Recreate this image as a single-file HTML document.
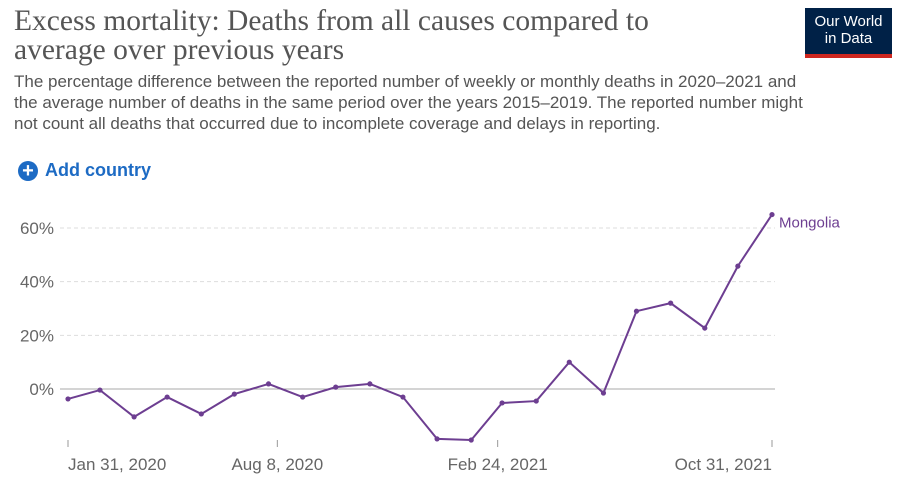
<!DOCTYPE html>
<html><head><meta charset="utf-8"><style>
body{margin:0;width:898px;height:480px;background:#fff;font-family:"Liberation Sans",sans-serif;position:relative;overflow:hidden}
.title{position:absolute;left:14px;top:7px;font-family:"Liberation Serif",serif;font-size:29.5px;line-height:29px;color:#555;width:700px}
.sub{position:absolute;left:14px;top:71px;font-size:17px;line-height:21px;color:#555;width:795px}
.logo{position:absolute;left:805px;top:8px;width:87px;height:50px;background:#002147;color:#fff;font-size:15px;line-height:17px;text-align:center;padding-top:5px;box-sizing:border-box;border-bottom:4px solid #ce261e}
.add{position:absolute;left:18px;top:160px;font-size:18px;font-weight:bold;color:#1d6bc4;display:flex;align-items:center}
.add span.c{display:inline-block;width:20px;height:20px;border-radius:50%;background:#1d6bc4;color:#fff;text-align:center;line-height:20px;font-size:20px;margin-right:7px}
</style></head><body>
<div class="title">Excess mortality: Deaths from all causes compared to average over previous years</div>
<div class="sub">The percentage difference between the reported number of weekly or monthly deaths in 2020–2021 and the average number of deaths in the same period over the years 2015–2019. The reported number might not count all deaths that occurred due to incomplete coverage and delays in reporting.</div>
<div class="logo">Our World<br>in Data</div>
<div class="add"><span class="c">+</span>Add country</div>
<svg id="chart" width="898" height="480" style="position:absolute;left:0;top:0"></svg>
<script>
const dates=["2020-01-31","2020-02-29","2020-03-31","2020-04-30","2020-05-31","2020-06-30","2020-07-31","2020-08-31","2020-09-30","2020-10-31","2020-11-30","2020-12-31","2021-01-31","2021-02-28","2021-03-31","2021-04-30","2021-05-31","2021-06-30","2021-07-31","2021-08-31","2021-09-30","2021-10-31"];
const values=[-3.7,-0.4,-10.4,-3,-9.3,-1.9,1.9,-3,0.7,1.9,-3,-18.6,-19,-5.2,-4.5,10,-1.5,29,32,22.7,45.8,65];
const yTicks=[0,20,40,60];
const xTicks=["2020-01-31","2020-08-08","2021-02-24","2021-10-31"];
const xTickLabels=["Jan 31, 2020","Aug 8, 2020","Feb 24, 2021","Oct 31, 2021"];
const svg=document.getElementById('chart');const NS="http://www.w3.org/2000/svg";
const t0=Date.parse("2020-01-31"),t1=Date.parse("2021-10-31");
const x=d=>68+(Date.parse(d)-t0)/(t1-t0)*704;
const y=v=>389-v*(161/60);
function el(tag,attrs,txt){const e=document.createElementNS(NS,tag);for(const k in attrs)e.setAttribute(k,attrs[k]);if(txt!=null)e.textContent=txt;svg.appendChild(e);return e;}
yTicks.forEach(v=>{
 const l=el('line',{x1:60,x2:775,y1:y(v),y2:y(v),stroke:v===0?'#aaa':'#ddd','stroke-dasharray':v===0?'':'4,3'});
 
 
 const t=el('text',{x:54,y:y(v)+6,'text-anchor':'end','font-size':17,fill:'#666','font-family':'Liberation Sans'},v+'%');
 
 
});
xTicks.forEach((d,i)=>{
 const l=el('line',{x1:x(d),x2:x(d),y1:440,y2:447,stroke:'#999'});
 
 
 const anchor=i===0?'start':(i===xTicks.length-1?'end':'middle');
 const t=el('text',{x:x(d),y:470,'text-anchor':anchor,'font-size':17,fill:'#666','font-family':'Liberation Sans'},xTickLabels[i]);
 
 
});
const p=el('polyline',{points:dates.map((d,i)=>x(d)+','+y(values[i])).join(' '),fill:'none',stroke:'#6d3e91','stroke-width':2});


dates.forEach((d,i)=>{
 const c=el('circle',{cx:x(d),cy:y(values[i]),r:2.6,fill:'#6d3e91'});
 
 
});
const lab=el('text',{x:779,y:y(values[values.length-1])+13,'font-size':15,fill:'#6d3e91','font-family':'Liberation Sans'},'Mongolia');


</script>
</body></html>
